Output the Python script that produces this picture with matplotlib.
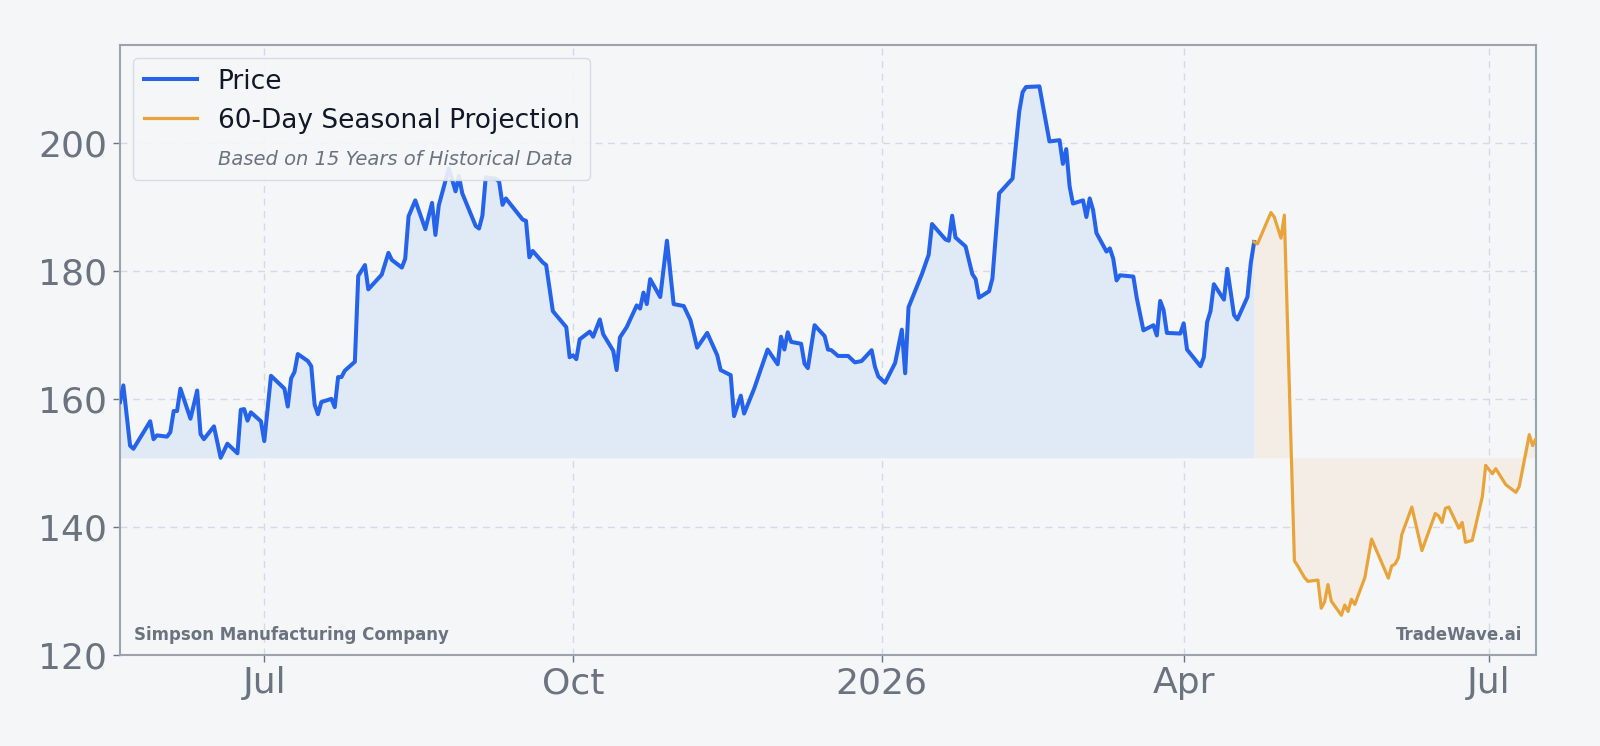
import pandas as pd
import matplotlib
matplotlib.use("Agg")
import matplotlib.pyplot as plt
import matplotlib.dates as mdates
from matplotlib.lines import Line2D

# price history (vertices)
price_dates = [
    "2025-05-19", "2025-05-20", "2025-05-22", "2025-05-23", "2025-05-28", "2025-05-29", "2025-05-30",
    "2025-06-02", "2025-06-03", "2025-06-04", "2025-06-05", "2025-06-06", "2025-06-09", "2025-06-11",
    "2025-06-12", "2025-06-13", "2025-06-16", "2025-06-18", "2025-06-20", "2025-06-23", "2025-06-24",
    "2025-06-25", "2025-06-26", "2025-06-27", "2025-06-30", "2025-07-01", "2025-07-03", "2025-07-07",
    "2025-07-08", "2025-07-09", "2025-07-10", "2025-07-11", "2025-07-14", "2025-07-15", "2025-07-16",
    "2025-07-17", "2025-07-18", "2025-07-21", "2025-07-22", "2025-07-23", "2025-07-24", "2025-07-25",
    "2025-07-28", "2025-07-29", "2025-07-31", "2025-08-01", "2025-08-05", "2025-08-07", "2025-08-08",
    "2025-08-11", "2025-08-12", "2025-08-13", "2025-08-15", "2025-08-18", "2025-08-20", "2025-08-21",
    "2025-08-22", "2025-08-25", "2025-08-27", "2025-08-28", "2025-08-29", "2025-09-02", "2025-09-03",
    "2025-09-04", "2025-09-05", "2025-09-08", "2025-09-09", "2025-09-10", "2025-09-11", "2025-09-16",
    "2025-09-17", "2025-09-18", "2025-09-19", "2025-09-22", "2025-09-23", "2025-09-25", "2025-09-29",
    "2025-09-30", "2025-10-01", "2025-10-02", "2025-10-03", "2025-10-06", "2025-10-07", "2025-10-09",
    "2025-10-10", "2025-10-13", "2025-10-14", "2025-10-15", "2025-10-17", "2025-10-20", "2025-10-21",
    "2025-10-22", "2025-10-23", "2025-10-24", "2025-10-27", "2025-10-29", "2025-10-31", "2025-11-03",
    "2025-11-05", "2025-11-06", "2025-11-07", "2025-11-10", "2025-11-13", "2025-11-14", "2025-11-17",
    "2025-11-18", "2025-11-20", "2025-11-21", "2025-11-24", "2025-11-28", "2025-12-01", "2025-12-02",
    "2025-12-03", "2025-12-04", "2025-12-05", "2025-12-08", "2025-12-09", "2025-12-10", "2025-12-12",
    "2025-12-15", "2025-12-16", "2025-12-17", "2025-12-19", "2025-12-22", "2025-12-24", "2025-12-26",
    "2025-12-29", "2025-12-30", "2025-12-31", "2026-01-02", "2026-01-05", "2026-01-07", "2026-01-08",
    "2026-01-09", "2026-01-13", "2026-01-15", "2026-01-16", "2026-01-20", "2026-01-21", "2026-01-22",
    "2026-01-23", "2026-01-26", "2026-01-28", "2026-01-29", "2026-01-30", "2026-02-02", "2026-02-03",
    "2026-02-05", "2026-02-09", "2026-02-11", "2026-02-12", "2026-02-13", "2026-02-17", "2026-02-19",
    "2026-02-20", "2026-02-23", "2026-02-24", "2026-02-25", "2026-02-26", "2026-02-27", "2026-03-02",
    "2026-03-03", "2026-03-04", "2026-03-05", "2026-03-06", "2026-03-09", "2026-03-10", "2026-03-11",
    "2026-03-12", "2026-03-13", "2026-03-17", "2026-03-18", "2026-03-20", "2026-03-23", "2026-03-24",
    "2026-03-25", "2026-03-26", "2026-03-27", "2026-03-31", "2026-04-01", "2026-04-02", "2026-04-06",
    "2026-04-07", "2026-04-08", "2026-04-09", "2026-04-10", "2026-04-13", "2026-04-14", "2026-04-16",
    "2026-04-17", "2026-04-20", "2026-04-21", "2026-04-22",
]
price_values = [
    159.5, 162.1, 152.7, 152.2, 156.5, 153.7, 154.3,
    154.1, 154.8, 158.1, 158.1, 161.6, 156.9, 161.3,
    154.5, 153.7, 155.7, 150.8, 153.0, 151.5, 158.3,
    158.4, 156.6, 157.9, 156.5, 153.4, 163.6, 161.6,
    158.8, 163.2, 164.2, 167.0, 165.9, 165.1, 159.1,
    157.6, 159.5, 160.0, 158.7, 163.4, 163.4, 164.4,
    165.8, 179.2, 180.9, 177.1, 179.4, 182.8, 181.7,
    180.5, 181.9, 188.5, 191.0, 186.5, 190.6, 185.6,
    190.2, 196.0, 192.4, 194.8, 192.1, 187.0, 186.6,
    188.6, 194.6, 194.4, 193.9, 190.3, 191.3, 188.0,
    187.8, 182.1, 183.1, 181.3, 180.9, 173.7, 171.2,
    166.5, 166.8, 166.2, 169.3, 170.5, 169.7, 172.4,
    170.1, 167.5, 164.5, 169.6, 171.2, 174.6, 174.1,
    176.6, 174.8, 178.7, 175.9, 184.7, 174.8, 174.5,
    172.3, 170.2, 168.0, 170.3, 166.8, 164.5, 163.7,
    157.3, 160.5, 157.7, 161.6, 167.7, 165.4, 169.7,
    167.7, 170.4, 168.9, 168.6, 165.5, 164.8, 171.5,
    169.8, 167.7, 167.6, 166.7, 166.7, 165.7, 165.9,
    167.6, 165.0, 163.5, 162.5, 165.6, 170.8, 164.0,
    174.3, 179.5, 182.5, 187.3, 184.9, 184.7, 188.6,
    185.2, 183.8, 179.5, 178.7, 175.8, 176.8, 178.8,
    192.1, 194.4, 204.9, 207.9, 208.7, 208.8, 203.1,
    200.2, 200.4, 196.7, 199.0, 193.2, 190.5, 191.0,
    188.4, 191.3, 189.5, 185.9, 183.0, 183.5, 181.9,
    178.5, 179.3, 179.1, 175.8, 170.7, 171.5, 169.9,
    175.3, 173.9, 170.3, 170.2, 171.8, 167.7, 165.1,
    166.5, 172.0, 173.7, 177.9, 175.5, 180.3, 173.1,
    172.4, 175.9, 181.2, 184.5,
]

# 60-day seasonal projection
proj_dates = [
    "2026-04-22", "2026-04-23", "2026-04-27", "2026-04-28", "2026-04-30", "2026-05-01", "2026-05-04",
    "2026-05-05", "2026-05-07", "2026-05-08", "2026-05-11", "2026-05-12", "2026-05-13", "2026-05-14",
    "2026-05-15", "2026-05-18", "2026-05-19", "2026-05-20", "2026-05-21", "2026-05-22", "2026-05-25",
    "2026-05-27", "2026-06-01", "2026-06-02", "2026-06-03", "2026-06-04", "2026-06-05", "2026-06-08",
    "2026-06-11", "2026-06-15", "2026-06-16", "2026-06-17", "2026-06-18", "2026-06-19", "2026-06-22",
    "2026-06-23", "2026-06-24", "2026-06-26", "2026-06-29", "2026-06-30", "2026-07-02", "2026-07-03",
    "2026-07-06", "2026-07-08", "2026-07-09", "2026-07-10", "2026-07-13", "2026-07-14", "2026-07-15",
]
proj_values = [
    184.5, 184.2, 189.1, 188.4, 185.1, 188.7, 134.7,
    133.9, 132.1, 131.5, 131.7, 127.3, 128.3, 131.0,
    128.4, 126.2, 127.8, 126.8, 128.7, 127.9, 132.1,
    138.1, 132.0, 133.9, 134.2, 135.2, 138.8, 143.1,
    136.3, 142.1, 141.7, 140.7, 142.9, 143.1, 139.8,
    140.7, 137.6, 137.9, 144.7, 149.6, 148.3, 149.1,
    146.6, 145.8, 145.4, 146.3, 154.4, 152.7, 153.8,
]

company = "Simpson Manufacturing Company"
brand = "TradeWave.ai"

price_x = pd.to_datetime(price_dates)
proj_x = pd.to_datetime(proj_dates)
base = min(price_values)

bg = "#f5f6f8"
blue = "#2563eb"
orange = "#e8a33a"
gray = "#6b7280"

fig = plt.figure(figsize=(16, 7.46), dpi=100, facecolor=bg)
ax = fig.add_axes([0.075, 0.122, 0.885, 0.818])
ax.set_facecolor(bg)

ax.fill_between(price_x, price_values, base, color="#e0eaf7", lw=0)
ax.fill_between(proj_x, proj_values, base, color="#f3ede6", lw=0)
ax.plot(price_x, price_values, color=blue, lw=2.9, zorder=3)
ax.plot(proj_x, proj_values, color=orange, lw=2.3, zorder=3)

ax.set_xlim(price_x[0], proj_x[-1])
ax.set_ylim(120, 215.3)
ax.set_yticks([120, 140, 160, 180, 200])

ax.xaxis.set_major_locator(mdates.MonthLocator(bymonth=[1, 4, 7, 10]))
ax.xaxis.set_major_formatter(
    matplotlib.ticker.FuncFormatter(
        lambda v, p: mdates.num2date(v).strftime("%Y") if mdates.num2date(v).month == 1
        else mdates.num2date(v).strftime("%b")))

ax.grid(True, color="#d5d9e0", ls=(0, (5, 4)), lw=1.0)
ax.set_axisbelow(True)
for s in ax.spines.values():
    s.set_color("#9ca3af")
    s.set_linewidth(1.5)
ax.tick_params(colors=gray, labelsize=26, length=5, width=1)
ax.tick_params(axis="x", pad=3)
ax.tick_params(axis="y", pad=4)

handles = [
    Line2D([], [], color=blue, lw=2.9),
    Line2D([], [], color=orange, lw=2.3),
    Line2D([], [], color="none"),
]
leg = ax.legend(handles, ["Price", "60-Day Seasonal Projection", "Based on 15 Years of Historical Data"],
                loc="upper left", fontsize=19, frameon=True, fancybox=True,
                handlelength=2.0, handletextpad=0.8, labelspacing=0.5,
                borderpad=0.4, borderaxespad=0.5)
leg.get_frame().set_facecolor(bg)
leg.get_frame().set_edgecolor("#d5d9e0")
leg.get_frame().set_alpha(0.9)
for t in leg.get_texts()[:2]:
    t.set_color("#111827")
sub = leg.get_texts()[2]
sub.set_fontsize(14)
sub.set_style("italic")
sub.set_color(gray)

ax.text(0.01, 0.018, company, transform=ax.transAxes, fontsize=12, fontweight="bold",
        color=gray, ha="left", va="bottom")
ax.text(0.99, 0.018, brand, transform=ax.transAxes, fontsize=12, fontweight="bold",
        color=gray, ha="right", va="bottom")

fig.savefig("out.png", dpi=100, facecolor=bg)
